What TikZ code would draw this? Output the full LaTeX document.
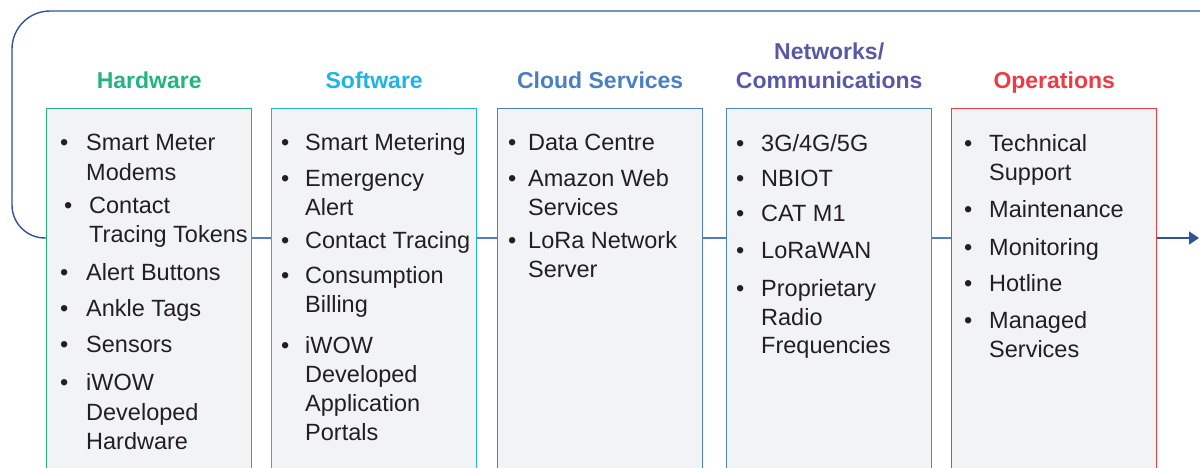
\documentclass[tikz,border=0pt]{standalone}
\usepackage{fontspec}
\setmainfont{Liberation Sans}
\usetikzlibrary{arrows.meta}

\definecolor{ink}{HTML}{231F20}
\definecolor{boxfill}{HTML}{F2F3F5}
\definecolor{hwc}{HTML}{25B47D}
\definecolor{swc}{HTML}{1FB3E6}
\definecolor{clc}{HTML}{4A80C2}
\definecolor{netc}{HTML}{5A58A6}
\definecolor{netb}{HTML}{4F86C6}
\definecolor{opc}{HTML}{EE3A43}
\definecolor{flowc}{HTML}{2E5597}
\definecolor{linkc}{HTML}{4F7DBF}

\tikzset{
  x=1pt, y=-1pt,
  colbox/.style={draw=#1, line width=1.4pt, fill=boxfill, anchor=north west,
    minimum width=205pt, minimum height=380pt, inner sep=0pt},
  head/.style={font=\fontsize{23}{27}\selectfont\bfseries, text=#1, anchor=base,
    inner sep=0pt},
  lbl/.style={font=\fontsize{23.5}{28}\selectfont, text=ink, anchor=base west,
    inner sep=0pt},
  link/.style={draw=linkc, line width=1.4pt},
  loop/.style={draw=flowc, line width=1.4pt}
}

\begin{document}
\begin{tikzpicture}
\useasboundingbox (0,0) rectangle (1200,468);
\clip (0,0) rectangle (1200,468);

% column boxes
\node[colbox=hwc]  (hw)  at (46,108)  {};
\node[colbox=swc]  (sw)  at (271,108) {};
\node[colbox=clc]  (cl)  at (497,108) {};
\node[colbox=netb] (net) at (726,108) {};
\node[colbox=opc]  (ops) at (951,108) {};

% headings
\coordinate (hbase) at (0,89);
\node[head=hwc]  (hw-h)  at (hw.north |- hbase)  {Hardware};
\node[head=swc]  (sw-h)  at (sw.north |- hbase)  {Software};
\node[head=clc]  (cl-h)  at (cl.north |- hbase)  {Cloud Services};
\node[head=netc] (net-h) at (net.north |- hbase) {Communications};
\node[head=netc] (net-h0) at ([yshift=29pt]net-h.base) {Networks/};
\node[head=opc]  (ops-h) at (ops.north |- hbase) {Operations};

% flow line through the columns
\coordinate (flow) at (0,238);
\coordinate (flowend) at (1199,238);
\draw[link] (hw.east |- flow) -- (sw.west |- flow);
\draw[link] (sw.east |- flow) -- (cl.west |- flow);
\draw[link] (cl.east |- flow) -- (net.west |- flow);
\draw[link] (net.east |- flow) -- (ops.west |- flow);
\draw[link, -{Triangle[length=10pt,width=13pt]}, draw=flowc] (ops.east |- flow) -- (flowend);
\draw[loop] (hw.west |- flow) [rounded corners=33pt] -- (12,238)
  [rounded corners=38pt] -- (12,11) -- (1215,11);

% Hardware
\node[lbl] (hw-b1) at (60,151) {\textbullet};
\node[lbl] (hw-1a) at (86,151) {Smart Meter};
\node[lbl] (hw-1b) at (86,181) {Modems};
\node[lbl] (hw-b2) at (64,213) {\textbullet};
\node[lbl] (hw-2a) at (89,213) {Contact};
\node[lbl] (hw-2b) at (89,242) {Tracing Tokens};
\node[lbl] (hw-b3) at (60,280) {\textbullet};
\node[lbl] (hw-3a) at (86,280) {Alert Buttons};
\node[lbl] (hw-b4) at (60,316) {\textbullet};
\node[lbl] (hw-4a) at (86,316) {Ankle Tags};
\node[lbl] (hw-b5) at (60,352) {\textbullet};
\node[lbl] (hw-5a) at (86,352) {Sensors};
\node[lbl] (hw-b6) at (60,390) {\textbullet};
\node[lbl] (hw-6a) at (86,390) {iWOW};
\node[lbl] (hw-6b) at (86,420) {Developed};
\node[lbl] (hw-6c) at (86,449) {Hardware};

% Software
\node[lbl] (sw-b1) at (281,151) {\textbullet};
\node[lbl] (sw-1a) at (305,151) {Smart Metering};
\node[lbl] (sw-b2) at (281,186) {\textbullet};
\node[lbl] (sw-2a) at (305,186) {Emergency};
\node[lbl] (sw-2b) at (305,215) {Alert};
\node[lbl] (sw-b3) at (281,248) {\textbullet};
\node[lbl] (sw-3a) at (305,248) {Contact Tracing};
\node[lbl] (sw-b4) at (281,283) {\textbullet};
\node[lbl] (sw-4a) at (305,283) {Consumption};
\node[lbl] (sw-4b) at (305,312) {Billing};
\node[lbl] (sw-b5) at (281,353) {\textbullet};
\node[lbl] (sw-5a) at (305,353) {iWOW};
\node[lbl] (sw-5b) at (305,382) {Developed};
\node[lbl] (sw-5c) at (305,411) {Application};
\node[lbl] (sw-5d) at (305,440) {Portals};

% Cloud Services
\node[lbl] (cl-b1) at (508,151) {\textbullet};
\node[lbl] (cl-1a) at (528,151) {Data Centre};
\node[lbl] (cl-b2) at (508,186) {\textbullet};
\node[lbl] (cl-2a) at (528,186) {Amazon Web};
\node[lbl] (cl-2b) at (528,215) {Services};
\node[lbl] (cl-b3) at (508,248) {\textbullet};
\node[lbl] (cl-3a) at (528,248) {LoRa Network};
\node[lbl] (cl-3b) at (528,277) {Server};

% Networks / Communications
\node[lbl] (net-b1) at (736,152) {\textbullet};
\node[lbl] (net-1a) at (761,152) {3G/4G/5G};
\node[lbl] (net-b2) at (736,186) {\textbullet};
\node[lbl] (net-2a) at (761,186) {NBIOT};
\node[lbl] (net-b3) at (736,221) {\textbullet};
\node[lbl] (net-3a) at (761,221) {CAT M1};
\node[lbl] (net-b4) at (736,258) {\textbullet};
\node[lbl] (net-4a) at (761,258) {LoRaWAN};
\node[lbl] (net-b5) at (736,296) {\textbullet};
\node[lbl] (net-5a) at (761,296) {Proprietary};
\node[lbl] (net-5b) at (761,325) {Radio};
\node[lbl] (net-5c) at (761,353) {Frequencies};

% Operations
\node[lbl] (ops-b1) at (964,152) {\textbullet};
\node[lbl] (ops-1a) at (989,152) {Technical};
\node[lbl] (ops-1b) at (989,181) {Support};
\node[lbl] (ops-b2) at (964,218) {\textbullet};
\node[lbl] (ops-2a) at (989,218) {Maintenance};
\node[lbl] (ops-b3) at (964,255) {\textbullet};
\node[lbl] (ops-3a) at (989,255) {Monitoring};
\node[lbl] (ops-b4) at (964,291) {\textbullet};
\node[lbl] (ops-4a) at (989,291) {Hotline};
\node[lbl] (ops-b5) at (964,328) {\textbullet};
\node[lbl] (ops-5a) at (989,328) {Managed};
\node[lbl] (ops-5b) at (989,357) {Services};
\end{tikzpicture}
\end{document}
